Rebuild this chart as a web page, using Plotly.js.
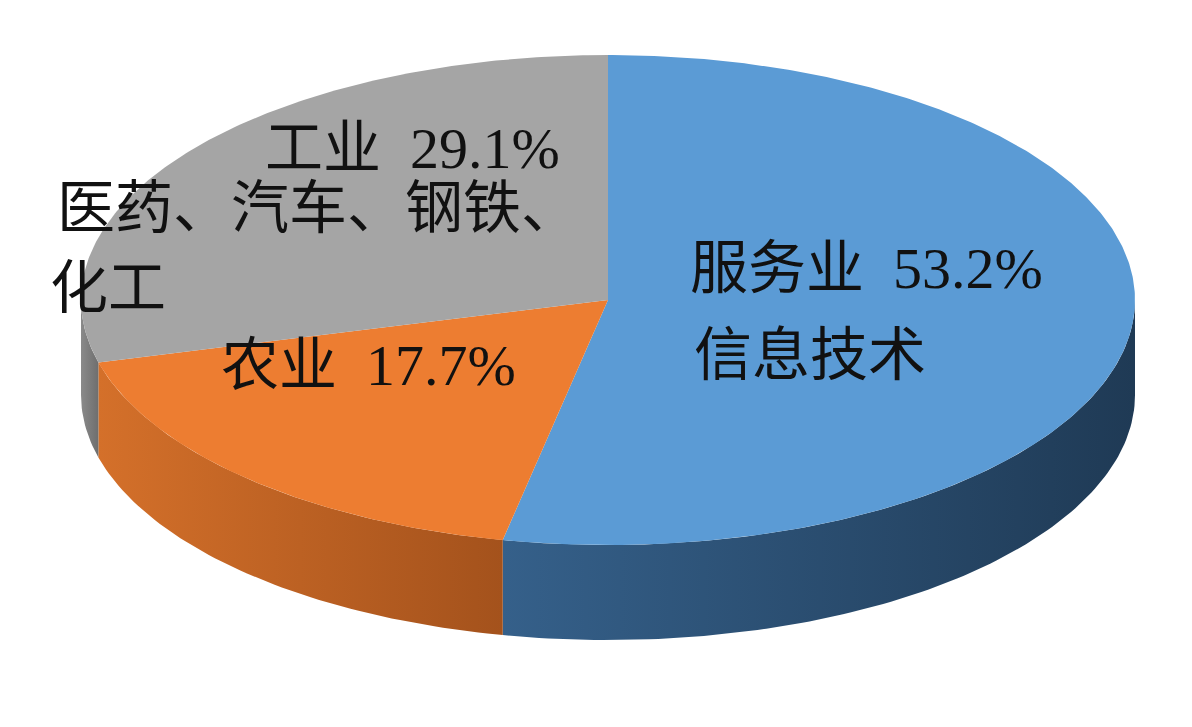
<!DOCTYPE html>
<html><head><meta charset="utf-8">
<script src="https://cdn.plot.ly/plotly-3.0.1.min.js"></script>
<style>body{margin:0;background:#fff}</style>
</head><body>
<div id="chart" style="width:1192px;height:727px"></div>
<script>
var sectors = ['服务业', '农业', '工业'];
var shares = [53.2, 17.7, 29.1];
var topColors = ['#5b9bd5', '#ed7d31', '#a5a5a5'];
var sideColors = [['#35608a', '#1f3a55'], ['#d4702a', '#a4521c'], ['#8a8a8a', '#6e6e6e']];

// ellipse geometry in pixel-like axis units
var cx = 608, cy = 300, rx = 527, ry = 245, depth = 95;

function pt(deg, dy) {
  var r = deg * Math.PI / 180;
  return [cx + rx * Math.cos(r), cy - ry * Math.sin(r) + (dy || 0)];
}

var traces = [];
var total = shares.reduce(function(a, b){ return a + b; }, 0);
var cum = 0;
var spans = shares.map(function(v){
  var a0 = 90 - 360 * cum / total;
  cum += v;
  var a1 = 90 - 360 * cum / total;
  return [a0, a1];
});

// side walls (front half only: angles between -180 and 0)
spans.forEach(function(s, i){
  var hi = s[0], lo = s[1];
  var a = Math.min(hi, 0), b = Math.max(lo, -180);
  if (a <= b) return;
  var xs = [], ys = [];
  for (var d = a; d >= b; d -= 1) { var p = pt(d); xs.push(p[0]); ys.push(p[1]); }
  var p = pt(b); xs.push(p[0]); ys.push(p[1]);
  for (var d = b; d <= a; d += 1) { var q = pt(d, depth); xs.push(q[0]); ys.push(q[1]); }
  q = pt(a, depth); xs.push(q[0]); ys.push(q[1]);
  traces.push({x: xs, y: ys, type: 'scatter', mode: 'lines', fill: 'toself',
    line: {width: 0}, fillcolor: sideColors[i][0],
    fillgradient: {type: 'horizontal', colorscale: [[0, sideColors[i][0]], [1, sideColors[i][1]]]},
    hoverinfo: 'skip', showlegend: false});
});

// top faces
spans.forEach(function(s, i){
  var xs = [cx], ys = [cy];
  for (var d = s[0]; d >= s[1]; d -= 0.5) { var p = pt(d); xs.push(p[0]); ys.push(p[1]); }
  var e = pt(s[1]); xs.push(e[0], cx); ys.push(e[1], cy);
  traces.push({x: xs, y: ys, type: 'scatter', mode: 'lines', fill: 'toself',
    line: {width: 0}, fillcolor: topColors[i], name: sectors[i],
    hoverinfo: 'name', showlegend: false});
});

var f = {family: 'Liberation Serif, Noto Sans CJK SC, serif', size: 58, color: '#111'};
function ann(x, y, t, xa) { return {x: x, y: y, text: t, showarrow: false, font: f, xanchor: xa || 'center'}; }
var annotations = [
  ann(866, 268, sectors[0] + '  ' + shares[0].toFixed(1) + '%'),
  ann(810, 355, '信息技术'),
  ann(412, 148, sectors[2] + '  ' + shares[2].toFixed(1) + '%'),
  ann(318, 208, '医药、汽车、钢铁、'),
  ann(48, 288, '化工', 'left'),
  ann(368, 365, sectors[1] + '  ' + shares[1].toFixed(1) + '%')
];

Plotly.newPlot('chart', traces, {
  width: 1192, height: 727,
  margin: {l: 0, r: 0, t: 0, b: 0},
  paper_bgcolor: '#fff', plot_bgcolor: '#fff',
  xaxis: {range: [0, 1192], visible: false, fixedrange: true},
  yaxis: {range: [727, 0], visible: false, fixedrange: true},
  annotations: annotations
}, {displayModeBar: false});
</script>
</body></html>
